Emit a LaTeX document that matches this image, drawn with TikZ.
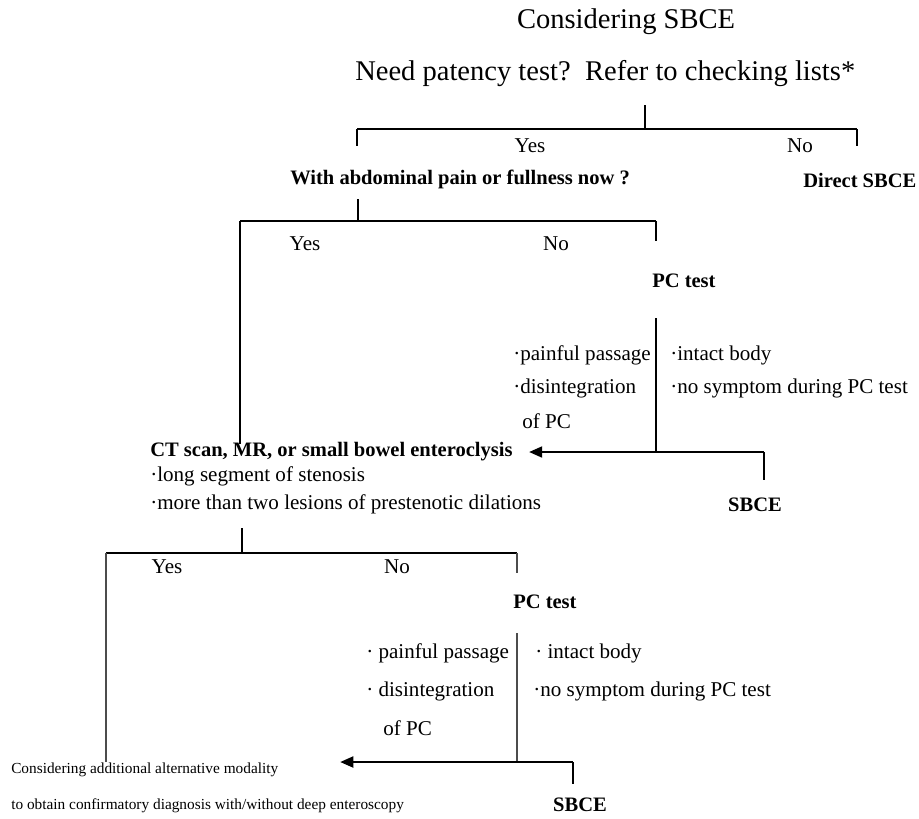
\documentclass[tikz,border=0pt]{standalone}
\usepackage{fontspec}
\setmainfont{Liberation Serif}
\usetikzlibrary{arrows.meta}
\begin{document}
\begin{tikzpicture}[x=0.75pt,y=-0.75pt,
    txt/.style={inner sep=0pt,font=\fontsize{15.8}{18}\selectfont},
    bld/.style={inner sep=0pt,font=\fontsize{15.4}{18}\selectfont\bfseries},
    big/.style={inner sep=0pt,font=\fontsize{21.4}{24}\selectfont},
    tiny/.style={inner sep=0pt,font=\fontsize{11.5}{13}\selectfont},
    bar/.style={line width=1.7pt},
    stem/.style={line width=0.9pt},
    flow/.style={line width=2.2pt,-{Triangle[length=10pt,width=8pt]}}]
    \useasboundingbox (0,0) rectangle (919,818);
    \node[big] (start) at (626,22) {Considering SBCE};
    \node[big,anchor=west] (need) at (355,74) {Need patency test?\ \ Refer to checking lists*};
    % first split
    \coordinate (s1) at (645,105); \coordinate (b1) at (645,129);
    \coordinate (b1l) at (357,146); \coordinate (b1r) at (857,146);
    \draw[stem] (s1) -- (b1);
    \draw[bar] (b1l |- b1) -- (b1r |- b1);
    \draw[stem] (b1l |- b1) -- (b1l) (b1r |- b1) -- (b1r);
    \node[txt] (yes1) at (530,146) {Yes};
    \node[txt] (no1) at (800,146) {No};
    \node[bld,anchor=west] (pain) at (290,179) {With abdominal pain or fullness now ?};
    \node[bld,anchor=west] (direct) at (803,180) {Direct SBCE};
    % second split
    \coordinate (s2) at (358,199); \coordinate (b2) at (358,221);
    \coordinate (b2l) at (240,444); \coordinate (b2r) at (656,241);
    \draw[stem] (s2) -- (b2);
    \draw[bar] (b2l |- b2) -- (b2r |- b2);
    \draw[stem] (b2l |- b2) -- (b2l) (b2r |- b2) -- (b2r);
    \node[txt] (yes2) at (305,244) {Yes};
    \node[txt] (no2) at (556,244) {No};
    \node[bld,anchor=west] (pc1) at (652,281) {PC test};
    \node[txt,anchor=west] (bad1a) at (513,355) {·painful passage};
    \node[txt,anchor=west] (bad1b) at (513,388) {·disintegration};
    \node[txt,anchor=west] (bad1c) at (522,421) {of PC};
    \node[txt,anchor=west] (ok1a) at (670,355) {·intact body};
    \node[txt,anchor=west] (ok1b) at (670,388) {·no symptom during PC test};
    \coordinate (v1) at (656,318); \coordinate (j1) at (656,452);
    \coordinate (e1) at (764,452); \coordinate (f1) at (764,480);
    \draw[stem] (v1) -- (j1) (e1) -- (f1);
    \node[bld,anchor=west] (ct) at (150,452) {CT scan, MR, or small bowel enteroclysis};
    \draw[flow] (e1) -- ([xshift=12pt]ct.east);
    \node[txt,anchor=west] (ct1) at (150,476) {·long segment of stenosis};
    \node[txt,anchor=west] (ct2) at (150,504) {·more than two lesions of prestenotic dilations};
    \node[bld] (sbce1) at (755,505) {SBCE};
    % third split
    \coordinate (s3) at (242,528); \coordinate (b3) at (242,553);
    \coordinate (b3l) at (106,762); \coordinate (b3r) at (517,573);
    \draw[stem] (s3) -- (b3);
    \draw[bar] (b3l |- b3) -- (b3r |- b3);
    \draw[stem,black!70] (b3l |- b3) -- (b3l) (b3r |- b3) -- (b3r);
    \node[txt] (yes3) at (167,567) {Yes};
    \node[txt] (no3) at (397,567) {No};
    \node[bld,anchor=west] (pc2) at (513,602) {PC test};
    \node[txt,anchor=west] (bad2a) at (366,653) {· painful passage};
    \node[txt,anchor=west] (bad2b) at (366,691) {· disintegration};
    \node[txt,anchor=west] (bad2c) at (383,728) {of PC};
    \node[txt,anchor=west] (ok2a) at (535,653) {· intact body};
    \node[txt,anchor=west] (ok2b) at (533,691) {·no symptom during PC test};
    \coordinate (v2) at (517,633); \coordinate (j2) at (517,762);
    \coordinate (e2) at (573,762); \coordinate (f2) at (573,784);
    \coordinate (tip2) at (340,762);
    \draw[stem,black!70] (v2) -- (j2);
    \draw[stem] (e2) -- (f2);
    \draw[flow] (e2) -- (tip2);
    \node[tiny,anchor=west] (alt1) at (11,770) {Considering additional alternative modality};
    \node[tiny,anchor=west] (alt2) at (11,806) {to obtain confirmatory diagnosis with/without deep enteroscopy};
    \node[bld] (sbce2) at (580,805) {SBCE};
\end{tikzpicture}
\end{document}
